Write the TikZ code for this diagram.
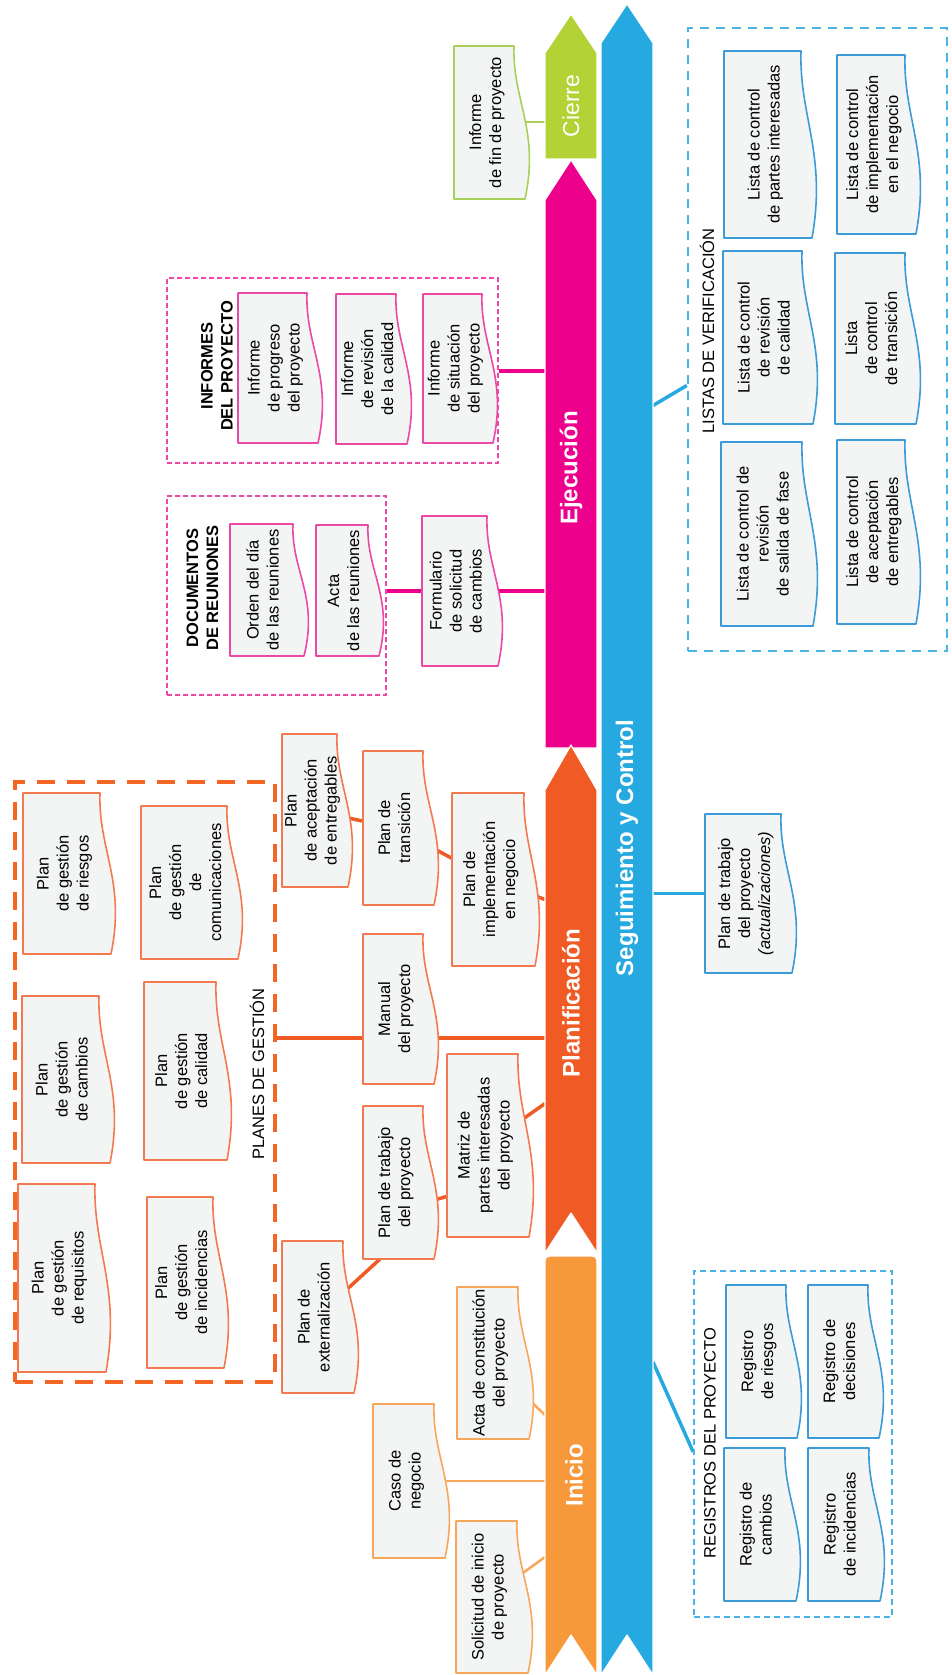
\documentclass[tikz,border=0pt]{standalone}
\usepackage{fontspec}
\setmainfont{Liberation Sans}
\usepackage{graphicx}
\usetikzlibrary{calc}

\definecolor{cInicio}{HTML}{F7993A}
\definecolor{cPlanif}{HTML}{F05A24}
\definecolor{cEjec}{HTML}{EC008C}
\definecolor{cCierre}{HTML}{B2D235}
\definecolor{cBlue}{HTML}{25A9E0}
\definecolor{boxfill}{HTML}{F3F4F4}
\definecolor{lnInicio}{HTML}{F8A65A}
\definecolor{lnPlanif}{HTML}{F37A50}
\definecolor{lnEjec}{HTML}{EC49A7}
\definecolor{lnCierre}{HTML}{A9D15A}
\definecolor{lnBlue}{HTML}{3D9AD8}
\definecolor{dashBlue}{HTML}{4CB3E6}
\definecolor{dashOrg}{HTML}{F26522}

\pgfdeclarelayer{conn}
\pgfsetlayers{conn,main}

\newcommand\TX[1]{\rotatebox{90}{\begin{tabular}{@{}c@{}}#1\end{tabular}}}

% name, L, T, R, B, colour, text
\newcommand\docbox[7]{%
  \path[docshape, draw=#6] (#4,#3) -- (#2,#3) -- (#2,#5) -- ({#4+11},#5)
    .. controls ({#4+26},{#5-0.45*(#5-#3)}) and ({#4-2},{#3+0.35*(#5-#3)}) .. (#4,#3) -- cycle;
  \node[doctext, minimum width={(#4-#2)*1pt}, minimum height={(#5-#3)*1pt}] (#1)
    at ({(#2+#4)/2+3},{(#3+#5)/2}) {\TX{#7}};
}
% name, L, T, R, B, style
\newcommand\grp[6]{%
  \node[#6, inner sep=0pt, minimum width={(#4-#2)*1pt}, minimum height={(#5-#3)*1pt}] (#1)
    at ({(#2+#4)/2},{(#3+#5)/2}) {};
}

\tikzset{
  docshape/.style={fill=boxfill, line width=1.6pt, line join=round},
  doctext/.style={inner sep=0pt, font=\fontsize{16.5}{20}\selectfont},
  bar/.style={draw=white, line width=1.2pt, line join=round},
  barnode/.style={inner sep=0pt, outer sep=0pt, minimum width=52pt},
  blabel/.style={rotate=90, text=white, font=\fontsize{24}{28}\selectfont\bfseries},
  ttl/.style={rotate=90, font=\fontsize{16.5}{20}\selectfont},
  bttl/.style={rotate=90, align=center, font=\fontsize{16.5}{20}\selectfont\bfseries},
  gblue/.style={draw=dashBlue, line width=2.5pt, dash pattern=on 9pt off 7pt},
  gblueb/.style={draw=dashBlue, line width=1.6pt, dash pattern=on 6pt off 4pt},
  gmag/.style={draw=lnEjec, line width=1.2pt, dash pattern=on 5pt off 3pt},
  gorg/.style={draw=dashOrg, line width=4.5pt, dash pattern=on 18pt off 12pt},
  cgreen/.style={draw=lnCierre, line width=2pt},
  cmag/.style={draw=cEjec, line width=4pt},
  corg/.style={draw=cPlanif, line width=3.5pt},
  cini/.style={draw=lnInicio, line width=2.5pt},
  cblue/.style={draw=cBlue, line width=3.5pt},
}

\begin{document}
\begin{tikzpicture}[x=1pt, y=-1pt]
\useasboundingbox (0,0) rectangle (951,1675);

% ---------- bars ----------
\path[bar, fill=cCierre] (545,53) -- (571,14) -- (597,53) -- (597,159) -- (545,159) -- cycle;
\path[bar, fill=cEjec] (545,200) -- (571,160) -- (597,200) -- (597,748) -- (545,748) -- cycle;
\path[bar, fill=cPlanif] (545,790) -- (571,745) -- (597,790) -- (597,1253) -- (571,1213) -- (545,1253) -- cycle;
\path[bar, fill=cInicio] (571,1635) -- (545,1675) -- (545,1266) .. controls (545,1256) .. (555,1256)
   -- (587,1256) .. controls (597,1256) .. (597,1266) -- (597,1675) -- cycle;
\path[bar, fill=cBlue] (601,43) -- (627,4) -- (653,43) -- (653,1675) -- (627,1635) -- (601,1675) -- cycle;

\node[barnode, minimum height=145pt] (cierreBar) at (571,86.5) {};
\node[barnode, minimum height=588pt] (ejecBar) at (571,454) {};
\node[barnode, minimum height=508pt] (planifBar) at (571,999) {};
\node[barnode, minimum height=419pt] (inicioBar) at (571,1465.5) {};
\node[barnode, minimum height=1671pt] (segBar) at (627,839.5) {};

\node[blabel, font=\fontsize{23}{28}\selectfont] (cierre) at (571,106) {Cierre};
\node[blabel] (ejec) at (571,468) {Ejecución};
\node[blabel] (planif) at (571,1003) {Planificación};
\node[blabel] (inicio) at (574,1475) {Inicio};
\node[blabel] (seg) at (627,848) {Seguimiento y Control};

% ---------- groups ----------
\grp{listas}{688}{28}{947}{651}{gblue}
\grp{registros}{694}{1271}{892}{1617}{gblueb}
\grp{informes}{167}{278}{498}{463}{gmag}
\grp{documentos}{167}{496}{386}{695}{gmag}
\grp{planes}{15}{782}{275}{1382}{gorg}

\node[ttl] (tListas) at (707,331) {LISTAS DE VERIFICACIÓN};
\node[ttl] (tRegistros) at (710,1443) {REGISTROS DEL PROYECTO};
\node[ttl] (tPlanes) at (257,1074) {PLANES DE GESTIÓN};
\node[bttl] (tInformes) at (217,366) {INFORMES\\DEL PROYECTO};
\node[bttl] (tDocs) at (202.5,588) {DOCUMENTOS\\DE REUNIONES};

% ---------- Cierre ----------
\docbox{fin}{454}{46}{514}{199}{lnCierre}{Informe\\de fin de proyecto}

% ---------- Listas de verificación ----------
\docbox{lcPartes}{724}{51}{801}{238}{lnBlue}{Lista de control\\de partes interesadas}
\docbox{lcCalidad}{723}{251}{802}{424}{lnBlue}{Lista de control\\de revisión\\de calidad}
\docbox{lcSalida}{721}{442}{802}{626}{lnBlue}{Lista de control de\\revisión\\de salida de fase}
\docbox{lcImpl}{837}{55}{905}{234}{lnBlue}{Lista de control\\de implementación\\en el negocio}
\docbox{lcTrans}{835}{253}{905}{424}{lnBlue}{Lista\\de control\\de transición}
\docbox{lcAcept}{837}{440}{905}{624}{lnBlue}{Lista de control\\de aceptación\\de entregables}

% ---------- Ejecución ----------
\docbox{progreso}{238}{293}{307}{443}{lnEjec}{Informe\\de progreso\\del proyecto}
\docbox{revision}{336}{294}{396}{444}{lnEjec}{Informe\\de revisión\\de la calidad}
\docbox{situacion}{423}{294}{482}{443}{lnEjec}{Informe\\de situación\\del proyecto}
\docbox{orden}{230}{524}{293}{656}{lnEjec}{Orden del día\\de las reuniones}
\docbox{actaReu}{316}{525}{368}{656}{lnEjec}{Acta\\de las reuniones}
\docbox{formulario}{422}{516}{487}{666}{lnEjec}{Formulario\\de solicitud\\de cambios}

% ---------- Planificación ----------
\docbox{riesgos}{23}{793}{100}{954}{lnPlanif}{Plan\\de gestión\\de riesgos}
\docbox{cambios}{22}{996}{99}{1163}{lnPlanif}{Plan\\de gestión\\de cambios}
\docbox{requisitos}{18}{1184}{95}{1372}{lnPlanif}{Plan\\de gestión\\de requisitos}
\docbox{comunicaciones}{141}{806}{227}{959}{lnPlanif}{Plan\\de gestión\\de\\comunicaciones}
\docbox{calidad}{144}{982}{216}{1160}{lnPlanif}{Plan\\de gestión\\de calidad}
\docbox{incidencias}{147}{1197}{213}{1368}{lnPlanif}{Plan\\de gestión\\de incidencias}
\docbox{aceptacion}{282}{734}{337}{887}{lnPlanif}{Plan\\de aceptación\\de entregables}
\docbox{transicion}{363}{751}{423}{905}{lnPlanif}{Plan de\\transición}
\docbox{implementacion}{452}{793}{524}{966}{lnPlanif}{Plan de\\implementación\\en negocio}
\docbox{manual}{363}{934}{423}{1084}{lnPlanif}{Manual\\del proyecto}
\docbox{matriz}{447}{1054}{518}{1237}{lnPlanif}{Matriz de\\partes interesadas\\del proyecto}
\docbox{trabajo}{363}{1106}{423}{1259}{lnPlanif}{Plan de trabajo\\del proyecto}
\docbox{externalizacion}{282}{1241}{343}{1393}{lnPlanif}{Plan de\\externalización}

% ---------- Inicio ----------
\docbox{acta}{457}{1287}{518}{1439}{lnInicio}{Acta de constitución\\del proyecto}
\docbox{caso}{373}{1404}{434}{1558}{lnInicio}{Caso de\\negocio}
\docbox{solicitud}{456}{1521}{517}{1673}{lnInicio}{Solicitud de inicio\\de proyecto}

% ---------- Seguimiento y Control ----------
\docbox{upd}{705}{814}{781}{973}{lnBlue}{Plan de trabajo\\del proyecto\\\textit{(actualizaciones)}}
\docbox{regRiesgos}{726}{1285}{786}{1438}{lnBlue}{Registro\\de riesgos}
\docbox{regDecisiones}{808}{1285}{868}{1438}{lnBlue}{Registro de\\decisiones}
\docbox{regCambios}{724}{1448}{785}{1601}{lnBlue}{Registro de\\cambios}
\docbox{regIncidencias}{808}{1448}{869}{1601}{lnBlue}{Registro\\de incidencias}

\coordinate (mlink) at (0,1038);

% ---------- connectors ----------
\begin{pgfonlayer}{conn}
\draw[cgreen] (fin.east) -- (fin.east -| cierreBar.west);
\draw[cmag] (informes.east) -- (informes.east -| ejecBar.west);
\draw[cmag] (formulario.west -| documentos.east) -- (formulario.east -| ejecBar.west);
\draw[corg] (mlink -| planes.east) -- (mlink -| planifBar.west);
\draw[corg] (aceptacion) -- (transicion);
\draw[corg] (transicion) -- (implementacion);
\draw[corg] (implementacion.center) -- ($(implementacion.center -| planifBar.west)+(0,20)$);
\draw[corg] ($(trabajo.east)+(0,20)$) -- ($(matriz.west)+(0,50)$);
\draw[corg] (matriz.center) -- ($(matriz.center -| planifBar.west)+(0,-42)$);
\draw[corg] ($(externalizacion.east)+(0,-27)$) -- ($(trabajo.south west)+(14,0)$);
\draw[cini] (acta.center) -- ($(acta.center -| inicioBar.west)+(0,52)$);
\draw[cini] (caso.east) -- (caso.east -| inicioBar.west);
\draw[cini] (solicitud.center) -- ($(solicitud.center -| inicioBar.west)+(0,-40)$);
\draw[cblue] ($(listas.west)+(0,46)$) -- ($(listas.west -| segBar.east)+(0,66)$);
\draw[cblue] (upd.west) -- (upd.west -| segBar.east);
\draw[cblue] ($(registros.west)+(0,8)$) -- ($(registros.west -| segBar.east)+(0,-82)$);
\end{pgfonlayer}
\end{tikzpicture}
\end{document}
